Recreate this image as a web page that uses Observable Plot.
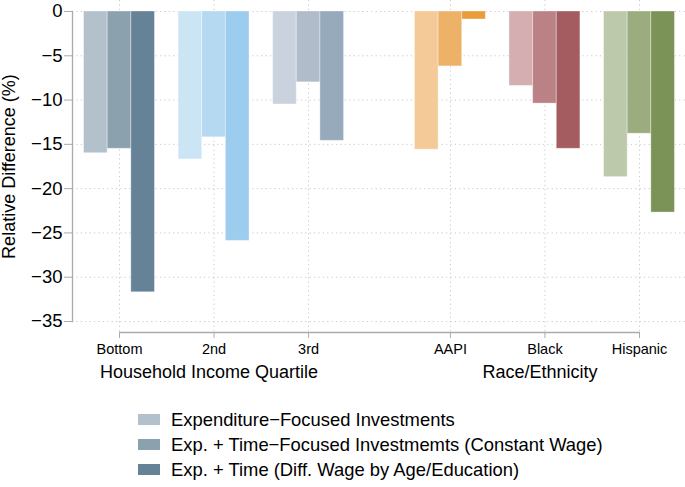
<!DOCTYPE html>
<html><head><meta charset="utf-8">
<script src="https://cdn.jsdelivr.net/npm/d3@7"></script>
<script src="https://cdn.jsdelivr.net/npm/@observablehq/plot@0.6"></script>
<style>
body{margin:0;background:#fff;font-family:"Liberation Sans",Arial,Helvetica,sans-serif;}
#legend{margin-left:138px;padding-top:17px;}
.row{display:flex;align-items:center;height:25px;font-size:18.4px;color:#000;white-space:nowrap}
.sw{width:22px;height:11px;margin-right:11px;flex:none}
</style></head><body><div id="chart"></div><div id="legend"></div>
<script>
// ---- data ----
const categories = ["Bottom", "2nd", "3rd", "AAPI", "Black", "Hispanic"];
const groupOf = ["Household Income Quartile", "Household Income Quartile", "Household Income Quartile",
                 "Race/Ethnicity", "Race/Ethnicity", "Race/Ethnicity"];
const groups = ["Household Income Quartile", "Race/Ethnicity"];
const seriesNames = [
  "Expenditure\u2212Focused Investments",
  "Exp. + Time\u2212Focused Investmemts (Constant Wage)",
  "Exp. + Time (Diff. Wage by Age/Education)"
];
const expenditure = [-16.0, -16.7, -10.5, -15.6, -8.4, -18.7];
const expTimeConstant = [-15.5, -14.2, -8.0, -6.2, -10.4, -13.8];
const expTimeDiffWage = [-31.7, -25.9, -14.6, -0.9, -15.5, -22.7];
const yTicks = [0, -5, -10, -15, -20, -25, -30, -35];
const palettes = [
  ["#b3c1cc", "#8ca1ae", "#668296"],
  ["#cce5f5", "#b5d9f1", "#9ccdee"],
  ["#cad3dd", "#b0bcc9", "#97aabb"],
  ["#f4ca99", "#edb268", "#eb9c3a"],
  ["#d4aeb1", "#bb8285", "#a45c60"],
  ["#bdc9ab", "#9bac7e", "#7b9356"]
];
const legendColors = palettes[0];

// ---- derived ----
const seriesValues = [expenditure, expTimeConstant, expTimeDiffWage];
const groupGap = 0.5, barW = 0.25;
const pos = categories.map((c, i) => i + 1 + groups.indexOf(groupOf[i]) * groupGap);
const rows = [];
categories.forEach((c, i) => seriesValues.forEach((vals, k) => rows.push({
  cat: c, x1: pos[i] + (k - 1.5) * barW, x2: pos[i] + (k - 0.5) * barW, value: vals[i], color: palettes[i][k]
})));
const groupRows = groups.map(g => ({name: g, x: d3.mean(pos.filter((p, i) => groupOf[i] === g))}));
const gridColor = "#c8c8c8", axisColor = "#ababab";

const chart = Plot.plot({
  width: 685, height: 390,
  marginTop: 11, marginBottom: 69, marginLeft: 72, marginRight: 0,
  style: {fontFamily: '"Liberation Sans", Arial, Helvetica, sans-serif', background: "#fff", color: "#000", overflow: "visible"},
  x: {domain: [1, 6.5], range: [119, 639], axis: null},
  y: {domain: [-35, 0], axis: null},
  color: {type: "identity"},
  marks: [
    Plot.ruleY(yTicks, {stroke: gridColor, strokeDasharray: "1.2,3.2", strokeWidth: 1}),
    Plot.ruleX(pos, {stroke: gridColor, strokeDasharray: "1.2,3.2", strokeWidth: 1, insetTop: -11, insetBottom: -11}),
    Plot.rect(rows, {x1: "x1", x2: "x2", y1: () => 0, y2: "value", fill: "color", stroke: "white", strokeOpacity: 0.35, strokeWidth: 1}),
    Plot.frame({anchor: "left", stroke: axisColor, strokeWidth: 1.3}),
    Plot.axisY({ticks: yTicks, tickSize: 8, tickPadding: 2, tickFormat: d3.format("d"), label: null, fontSize: 18.5, stroke: axisColor, fill: "#000"}),
    Plot.ruleY([-35], {x1: pos[0], x2: pos[pos.length - 1], dy: 11, stroke: axisColor, strokeWidth: 1.3}),
    Plot.axisX({ticks: pos, tickFormat: d => categories[pos.indexOf(d)], tickSize: 6, tickPadding: 5, dy: 11, label: null, fontSize: 14.5, stroke: axisColor, fill: "#000"}),
    Plot.text(groupRows, {x: "x", text: "name", frameAnchor: "bottom", dy: 51, dx: -5, fontSize: 18, fill: "#000", lineAnchor: "middle"}),
    Plot.text(["Relative Difference (%)"], {text: d => d, frameAnchor: "left", rotate: -90, dx: -63, fontSize: 18, fill: "#000", textAnchor: "middle", lineAnchor: "middle"})
  ]
});
document.getElementById("chart").appendChild(chart);

const legend = d3.select("#legend");
seriesNames.forEach((name, k) => {
  const r = legend.append("div").attr("class", "row");
  r.append("div").attr("class", "sw").style("background", legendColors[k]);
  r.append("span").text(name);
});
</script>
</body></html>
